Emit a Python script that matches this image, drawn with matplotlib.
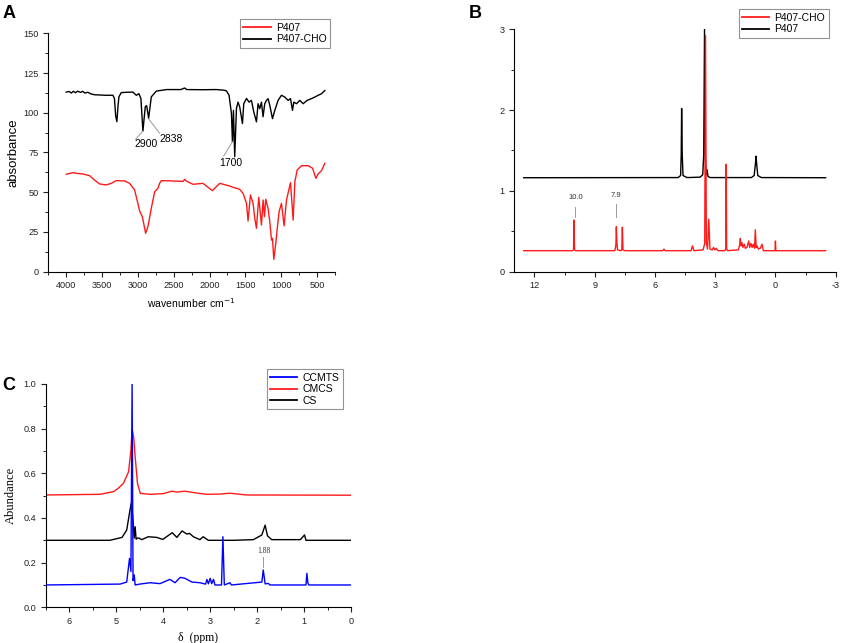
import numpy as np
import matplotlib
matplotlib.use("Agg")
import matplotlib.pyplot as plt
from matplotlib.ticker import MultipleLocator

# ---- A: FTIR ----
ir_cho_x = [4000, 3960, 3930, 3900, 3870, 3840, 3800, 3770, 3740, 3700, 3650, 3600, 3535, 3450,
            3349, 3327, 3310, 3293, 3278, 3265, 3232, 3150, 3070, 3022, 2986, 2958, 2930, 2897,
            2878, 2850, 2813, 2743, 2603, 2400, 2347, 2320, 2100, 1904, 1800, 1765, 1728, 1695,
            1681, 1667, 1649, 1625, 1603, 1579, 1541, 1523, 1485, 1449, 1416, 1383, 1346, 1323,
            1300, 1276, 1254, 1230, 1206, 1184, 1160, 1122, 1090, 1044, 997, 951, 904, 871, 843,
            825, 787, 741, 694, 639, 577, 531, 485, 438, 392]
ir_cho_y = [113.0, 113.4, 112.4, 113.5, 112.6, 113.6, 112.8, 113.5, 112.4, 112.9, 111.8, 111.3,
            111.2, 111.0, 111.0, 109.0, 98.0, 94.4, 104.0, 110.0, 112.7, 112.9, 113.0, 111.0,
            112.0, 109.0, 88.5, 103.8, 104.5, 96.6, 110.0, 113.6, 114.6, 114.6, 115.6, 114.6,
            114.5, 114.6, 114.2, 113.8, 111.0, 99.6, 81.8, 101.5, 72.4, 102.6, 106.7, 103.6, 93.2,
            105.7, 109.0, 106.7, 107.8, 100.5, 94.3, 105.7, 102.6, 106.7, 97.5, 105.7, 107.8,
            108.9, 104.7, 96.3, 101.5, 107.8, 111.0, 109.9, 107.8, 108.9, 101.5, 106.7, 105.7,
            107.8, 105.7, 107.8, 108.9, 109.9, 111.0, 112.0, 114.0]

ir_p407_x = [4000, 3908, 3840, 3768, 3674, 3605, 3535, 3441, 3371, 3302, 3186, 3116, 3046, 3000,
             2976, 2938, 2892, 2860, 2813, 2766, 2720, 2697, 2673, 2511, 2370, 2347, 2320, 2231,
             2092, 1961, 1858, 1719, 1672, 1625, 1579, 1533, 1485, 1463, 1430, 1393, 1369, 1346,
             1314, 1276, 1253, 1234, 1216, 1184, 1160, 1136, 1122, 1104, 1076, 1058, 1030, 997,
             960, 927, 871, 834, 810, 778, 717, 625, 563, 517, 485, 438, 392]
ir_p407_y = [61.3, 62.3, 61.8, 61.5, 60.4, 57.7, 55.2, 54.6, 55.6, 57.3, 57.1, 55.6, 51.4, 43.0,
             38.2, 34.6, 24.2, 28.3, 39.9, 50.3, 52.5, 55.6, 57.3, 57.1, 56.8, 58.1, 56.9, 55.0,
             55.6, 51.0, 55.6, 53.9, 53.1, 52.5, 51.8, 49.3, 43.0, 31.9, 48.3, 43.0, 33.6, 27.3,
             46.8, 29.4, 45.1, 34.6, 45.6, 39.9, 31.5, 19.9, 21.0, 7.8, 17.9, 26.2, 37.8, 43.0,
             28.8, 45.1, 56.0, 32.5, 56.6, 64.0, 66.7, 66.7, 65.1, 58.8, 61.5, 63.6, 68.2]

ir_labels = ["2900", "2838", "1700"]
ir_label_peak = [(2938, 88.1), (2846, 95.9), (1681, 81.8)]
ir_label_end = [(3032, 83.3), (2697, 87.1), (1802, 72.8)]
ir_label_text = [(2892, 80.4), (2543, 83.5), (1705, 68.7)]

# ---- B: 1H NMR P407 ----
nmr_p407_x = [12.53, 4.85, 4.72, 4.69, 4.67, 4.64, 4.60, 4.40, 3.75, 3.62, 3.57, 3.53, 3.49,
              3.44, 3.40, 3.36, 3.25, 1.20, 1.06, 0.99, 0.97, 0.94, 0.88, 0.70, -2.50]
nmr_p407_y = [1.163, 1.165, 1.19, 1.45, 2.02, 1.45, 1.19, 1.165, 1.17, 1.20, 1.45, 3.00, 1.40,
              1.20, 1.26, 1.18, 1.165, 1.165, 1.19, 1.35, 1.43, 1.35, 1.19, 1.165, 1.163]

nmr_cho_x = [12.53, 10.10, 10.05, 10.03, 10.00, 9.95, 8.00, 7.96, 7.94, 7.92, 7.89, 7.86, 7.70,
             7.65, 7.62, 7.59, 7.50, 5.60, 5.55, 5.50, 4.20, 4.13, 4.06, 3.60, 3.52, 3.48,
             3.44, 3.38, 3.32, 3.26, 3.15, 3.08, 3.02, 2.95, 2.90, 2.85, 2.52, 2.47, 2.45, 2.43,
             2.38, 1.85, 1.78, 1.75, 1.71, 1.67, 1.62, 1.55, 1.50, 1.42, 1.33, 1.28, 1.22,
             1.16, 1.10, 1.04, 1.00, 0.96, 0.92, 0.85, 0.75, 0.67, 0.60, 0.30, 0.02, 0.00,
             -0.02, -2.50]
nmr_cho_y = [0.26, 0.26, 0.27, 0.64, 0.27, 0.26, 0.26, 0.30, 0.35, 0.557, 0.35, 0.27, 0.26,
             0.27, 0.55, 0.27, 0.26, 0.26, 0.28, 0.26, 0.26, 0.32, 0.26, 0.27, 0.35, 2.92, 0.36,
             0.28, 0.65, 0.28, 0.27, 0.30, 0.27, 0.29, 0.27, 0.26, 0.26, 0.28, 1.33, 0.28, 0.26,
             0.27, 0.33, 0.41, 0.32, 0.36, 0.30, 0.34, 0.29, 0.30, 0.38, 0.30, 0.35, 0.30, 0.34,
             0.29, 0.52, 0.30, 0.32, 0.28, 0.29, 0.34, 0.26, 0.26, 0.26, 0.38, 0.26, 0.26]

nmr_b_labels = ["10.0", "7.9"]
nmr_b_peak = [(10.0, 0.68), (7.93, 0.68)]
nmr_b_top = [(10.0, 0.80), (7.93, 0.84)]
nmr_b_text = [(9.96, 0.92), (7.93, 0.94)]

# ---- C: 1H NMR chitosan series ----
cmcs_x = [6.5, 5.35, 5.06, 4.96, 4.85, 4.74, 4.69, 4.665, 4.63, 4.60, 4.55, 4.49, 4.28, 4.00,
          3.82, 3.70, 3.54, 3.30, 3.07, 2.80, 2.58, 2.23, 0.0]
cmcs_y = [0.503, 0.506, 0.518, 0.533, 0.555, 0.607, 0.705, 0.80, 0.76, 0.674, 0.555, 0.51,
          0.506, 0.509, 0.52, 0.516, 0.52, 0.512, 0.506, 0.507, 0.511, 0.503, 0.502]

cs_x = [6.5, 5.14, 4.88, 4.78, 4.71, 4.68, 4.65, 4.62, 4.60, 4.58, 4.55, 4.52, 4.46, 4.32, 4.14,
        4.01, 3.93, 3.81, 3.71, 3.60, 3.50, 3.44, 3.36, 3.22, 3.15, 3.04, 2.50, 2.08, 1.90,
        1.83, 1.78, 1.69, 1.08, 0.99, 0.96, 0.0]
cs_y = [0.30, 0.30, 0.313, 0.346, 0.436, 0.468, 0.40, 0.31, 0.361, 0.305, 0.31, 0.31, 0.303,
        0.316, 0.313, 0.304, 0.316, 0.334, 0.313, 0.342, 0.328, 0.331, 0.316, 0.303, 0.316,
        0.30, 0.30, 0.303, 0.324, 0.368, 0.32, 0.303, 0.303, 0.324, 0.30, 0.30]

ccmts_x = [6.5, 4.92, 4.78, 4.72, 4.69, 4.665, 4.645, 4.62, 4.60, 4.50, 4.28, 4.07, 3.86, 3.75,
           3.64, 3.54, 3.39, 3.22, 3.10, 3.07, 3.04, 3.00, 2.97, 2.93, 2.90, 2.76, 2.73, 2.70,
           2.58, 2.55, 1.90, 1.87, 1.83, 1.76, 1.73, 0.96, 0.94, 0.92, 0.90, 0.0]
ccmts_y = [0.10, 0.104, 0.113, 0.219, 0.16, 1.0, 0.12, 0.145, 0.10, 0.104, 0.11, 0.106, 0.125,
           0.11, 0.134, 0.13, 0.113, 0.11, 0.104, 0.125, 0.105, 0.13, 0.106, 0.125, 0.10,
           0.10, 0.316, 0.10, 0.11, 0.10, 0.113, 0.167, 0.105, 0.107, 0.10, 0.10, 0.152,
           0.11, 0.10, 0.10]

c_labels = ["1.88"]
c_label_peak = [(1.87, 0.179)]
c_label_top = [(1.87, 0.227)]
c_label_text = [(1.86, 0.25)]

RED = "#ff1a1a"
GRAY = "#9a9a9a"


def style_axes(ax, fs=6.6):
    ax.spines["top"].set_visible(False)
    ax.spines["right"].set_visible(False)
    ax.tick_params(which="both", direction="out", labelsize=fs, colors="#222222")
    ax.tick_params(which="major", length=3.5, width=0.8)
    ax.tick_params(which="minor", length=2, width=0.7)
    for s in ("left", "bottom"):
        ax.spines[s].set_linewidth(0.8)


def legend(ax, anchor):
    leg = ax.legend(loc="upper right", bbox_to_anchor=anchor, fontsize=7.5, frameon=True,
                    fancybox=False, edgecolor="#777777", borderaxespad=0, handlelength=2.6,
                    labelspacing=0.15, borderpad=0.35, handletextpad=0.5)
    leg.get_frame().set_linewidth(0.8)
    for line in leg.get_lines():
        line.set_linewidth(1.3)
    return leg


def main():
    plt.rcParams["font.family"] = ["Liberation Sans", "DejaVu Sans"]
    plt.rcParams["axes.unicode_minus"] = False
    fig = plt.figure(figsize=(8.44, 6.43), dpi=100)

    # A
    axA = fig.add_axes([48.3 / 844, 1 - 271.7 / 643, 286.7 / 844, 238.4 / 643])
    axA.plot(ir_p407_x, ir_p407_y, color=RED, lw=1.0, label="P407")
    axA.plot(ir_cho_x, ir_cho_y, color="black", lw=1.0, label="P407-CHO")
    for lab, pk, end, txt in zip(ir_labels, ir_label_peak, ir_label_end, ir_label_text):
        axA.plot([pk[0], end[0]], [pk[1], end[1]], color=GRAY, lw=0.7)
        axA.text(txt[0], txt[1], lab, fontsize=7.5, ha="center", va="center")
    axA.set_xlim(4250, 250)
    axA.set_ylim(0, 150)
    axA.xaxis.set_major_locator(MultipleLocator(500))
    axA.xaxis.set_minor_locator(MultipleLocator(250))
    axA.yaxis.set_major_locator(MultipleLocator(25))
    axA.yaxis.set_minor_locator(MultipleLocator(12.5))
    style_axes(axA)
    axA.set_xlabel("wavenumber cm$^{-1}$", fontsize=7.5, labelpad=4)
    axA.set_ylabel("absorbance", fontsize=9.5, labelpad=3)
    legend(axA, (0.983, 1.06))

    # B
    axB = fig.add_axes([514.3 / 844, 1 - 271.7 / 643, 321.4 / 844, 242.4 / 643])
    axB.plot(nmr_cho_x, nmr_cho_y, color=RED, lw=1.0, label="P407-CHO", zorder=3)
    axB.plot(nmr_p407_x, nmr_p407_y, color="black", lw=1.0, label="P407", zorder=2)
    for lab, pk, top, txt in zip(nmr_b_labels, nmr_b_peak, nmr_b_top, nmr_b_text):
        axB.plot([pk[0], top[0]], [pk[1], top[1]], color=GRAY, lw=0.7)
        axB.text(txt[0], txt[1], lab, fontsize=5.5, ha="center", va="center", color="#333333")
    axB.set_xlim(13, -3)
    axB.set_ylim(0, 3)
    axB.xaxis.set_major_locator(MultipleLocator(3))
    axB.xaxis.set_minor_locator(MultipleLocator(1.5))
    axB.yaxis.set_major_locator(MultipleLocator(1))
    axB.yaxis.set_minor_locator(MultipleLocator(0.5))
    style_axes(axB)
    legend(axB, (0.979, 1.084))

    # C
    axC = fig.add_axes([46 / 844, 1 - 607.3 / 643, 305 / 844, 223.3 / 643])
    axC.plot(ccmts_x, ccmts_y, color="#0000ff", lw=1.0, label="CCMTS", zorder=3)
    axC.plot(cmcs_x, cmcs_y, color=RED, lw=1.0, label="CMCS", zorder=2)
    axC.plot(cs_x, cs_y, color="black", lw=1.0, label="CS", zorder=2)
    for lab, pk, top, txt in zip(c_labels, c_label_peak, c_label_top, c_label_text):
        axC.plot([pk[0], top[0]], [pk[1], top[1]], color=GRAY, lw=0.7)
        axC.text(txt[0], txt[1], lab, fontsize=5.5, ha="center", va="center",
                 family="Liberation Serif", color="#333333")
    axC.set_xlim(6.5, 0)
    axC.set_ylim(0, 1.0)
    axC.xaxis.set_major_locator(MultipleLocator(1))
    axC.xaxis.set_minor_locator(MultipleLocator(0.5))
    axC.yaxis.set_major_locator(MultipleLocator(0.2))
    axC.yaxis.set_minor_locator(MultipleLocator(0.1))
    axC.yaxis.set_major_formatter(matplotlib.ticker.FormatStrFormatter("%.1f"))
    style_axes(axC)
    axC.set_xlabel("δ  (ppm)", fontsize=8.5, family="Liberation Serif", labelpad=4)
    axC.set_ylabel("Abundance", fontsize=9, family="Liberation Serif", labelpad=5)
    legend(axC, (0.974, 1.067))

    for lab, x, y in [("A", 3, 5), ("B", 469, 5), ("C", 2, 377)]:
        fig.text(x / 844, 1 - y / 643, lab, fontsize=13, fontweight="bold", ha="left", va="top")

    fig.savefig("out.png", dpi=100)


if __name__ == "__main__":
    main()
